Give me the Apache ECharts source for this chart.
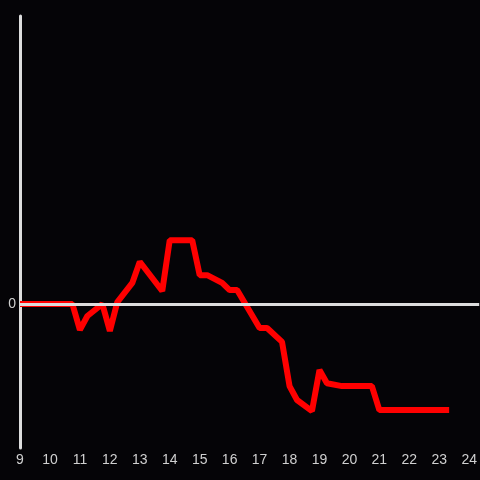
<!DOCTYPE html>
<html>
<head>
<meta charset="utf-8">
<script src="https://cdn.jsdelivr.net/npm/echarts@6/dist/echarts.min.js"></script>
<style>
  html, body { margin: 0; padding: 0; background: #050407; }
  #chart { width: 480px; height: 480px; }
</style>
</head>
<body>
<div id="chart"></div>
<script>
// hours of the day
const hours = [9, 10.75, 11, 11.25, 11.75, 12, 12.25, 12.75, 13, 13.75, 14, 14.75, 15, 15.25,
  15.75, 16, 16.25, 17, 17.25, 17.75, 18, 18.25, 18.75, 19, 19.25, 19.75, 20.75, 21, 23.33]
const values = [0, 0, -0.54, -0.25, 0, -0.56, 0.04, 0.44, 0.88, 0.27, 1.33, 1.33, 0.6, 0.6,
  0.44, 0.29, 0.29, -0.5, -0.5, -0.79, -1.71, -2.0, -2.23, -1.375, -1.65, -1.71, -1.71, -2.21, -2.21]
const yLabels = [0]

const chart = echarts.init(document.getElementById('chart'))

chart.setOption({
  backgroundColor: '#050407',
  animation: false,
  grid: { left: 20, right: 0, top: 16, bottom: 32, containLabel: false },
  xAxis: {
    type: 'value',
    min: 9,
    max: 24 + 1 / 3,
    interval: 1,
    axisLine: { show: false, onZero: false },
    axisTick: { show: false },
    splitLine: { show: false },
    axisLabel: {
      color: '#d0d0d0',
      fontSize: 14,
      margin: 5,
      showMaxLabel: false,
      formatter: (v) => (Number.isInteger(v) ? String(v) : ''),
    },
  },
  yAxis: {
    type: 'value',
    min: -3,
    max: 6,
    interval: 3,
    axisLine: { show: true, lineStyle: { color: '#dddddd', width: 3 } },
    axisTick: { show: false },
    splitLine: { show: false },
    axisLabel: {
      color: '#d0d0d0',
      fontSize: 14,
      margin: 4,
      formatter: (v) => (yLabels.includes(v) ? String(v) : ''),
    },
  },
  series: [
    {
      type: 'line',
      data: [],
      z: 1,
      markLine: {
        silent: true,
        symbol: 'none',
        label: { show: false },
        lineStyle: { color: '#dddddd', width: 3, type: 'solid' },
        data: [{ yAxis: 0 }],
      },
    },
    {
      type: 'line',
      z: 3,
      data: hours.map((h, i) => [h, values[i]]),
      showSymbol: false,
      lineStyle: { color: '#ff0000', width: 6 },
      itemStyle: { color: '#ff0000' },
    },
  ],
})
</script>
</body>
</html>
